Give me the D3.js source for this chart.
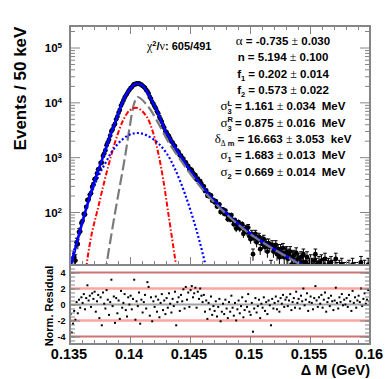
<!DOCTYPE html>
<html>
<head>
<meta charset="utf-8">
<title></title>
<script src="https://d3js.org/d3.v7.min.js"></script>
<style>
  body { margin: 0; background: #fff; }
  text { font-family: "Liberation Sans", Arial, sans-serif; font-weight: bold; fill: #000; }
  .greek { font-family: "Liberation Serif", "Times New Roman", serif; font-weight: normal; }
</style>
</head>
<body>
<svg id="chart" width="390" height="379"></svg>
<script>
// data: one point every 0.1 MeV (every second 50 keV bin)
var binLow = 0.13505
var binStep = 0.0001
var counts = [
  6, 1, 6, 15, 13, 28, 26, 43, 44, 63,
  69, 92, 90, 124, 165, 169, 206, 220, 287, 322,
  396, 410, 504, 600, 614, 784, 798, 1055, 1164, 1334,
  1650, 1867, 2088, 2481, 2983, 3210, 3734, 4049, 4898, 5503,
  6482, 7292, 8748, 9710, 10861, 12193, 13289, 14310, 15742, 16870,
  18138, 18967, 20279, 21439, 21251, 22089, 21950, 22202, 21277, 21127,
  19898, 19232, 18271, 16835, 15909, 14391, 12542, 11526, 10107, 9393,
  8464, 7779, 6875, 6313, 5415, 4912, 4421, 3794, 3425, 2968,
  2828, 2539, 2418, 2163, 1937, 1850, 1659, 1594, 1315, 1314,
  1233, 1082, 1061, 956, 927, 790, 806, 711, 685, 596,
  605, 578, 509, 485, 469, 391, 406, 365, 366, 329,
  295, 292, 241, 248, 198, 214, 190, 201, 161, 166,
  150, 157, 126, 133, 138, 100, 107, 112, 93, 106,
  90, 74, 88, 73, 88, 72, 60, 71, 50, 59,
  65, 50, 55, 60, 40, 44, 50, 43, 52, 36,
  32, 40, 17, 33, 40, 28, 32, 35, 21, 30,
  26, 32, 23, 27, 19, 27, 23, 10, 25, 19,
  22, 25, 17, 21, 15, 21, 18, 22, 15, 18,
  19, 14, 17, 19, 11, 15, 16, 11, 18, 13,
  14, 10, 15, 12, 17, 10, 12, 15, 8, 11,
  13, 11, 8, 13, 17, 11, 9, 12, 10, 13,
  8, 11, 14, 6, 10, 11, 8, 12, 10, 6,
  10, 14, 9, 7, 10, 9, 11, 7, 9, 7,
  9, 6, 10, 8, 5, 11, 7, 9, 6, 8,
  9, 7, 12, 6, 8, 10, 7, 8, 11, 7
]
var residuals = [
  -1.2, -3.5, -2.4, -0.8, -1.9, 0.3, -1.1, 0.6, -0.4, 0.9,
  0.2, 1.3, -0.6, 0.8, 2.4, 0.5, 1.1, -0.3, 1.4, 0.7,
  1.6, -0.9, 0.4, 1.2, -1.7, 0.9, -2.6, 1.5, 0.1, -0.5,
  1.8, 0.6, -1.3, 0.3, 3.1, -0.2, 1.0, -2.3, 0.8, -1.1,
  0.5, -1.8, 1.7, -0.4, 0.2, 1.3, -0.7, -1.5, 0.9, 0.0,
  1.1, -0.6, 0.7, 3.1, -1.9, 0.4, -0.2, 1.5, -2.4, 0.6,
  -1.0, 0.3, 1.2, -0.5, 2.8, 2.2, -1.4, 0.9, -2.1, 0.4,
  -0.3, 1.0, -0.9, 0.6, -1.6, 0.2, 1.3, -0.7, 0.5, -1.2,
  0.8, -0.4, 1.4, 0.1, -1.0, 0.7, -0.2, 1.6, -2.6, 0.3,
  0.9, -0.8, 1.2, 0.4, 1.9, -0.5, 2.2, 0.6, 1.5, -0.3,
  1.8, 2.3, 0.9, 1.4, 2.1, -0.4, 1.6, 0.7, 2.0, 1.1,
  0.3, 1.2, -0.9, 0.5, -1.8, 0.2, -0.6, 1.0, -1.3, -0.2,
  -0.8, 0.4, -1.5, -0.3, 0.7, -2.1, -0.9, 0.1, -1.2, 0.6,
  -0.5, -1.7, 0.3, -0.9, 1.1, -0.4, -1.4, 0.2, -2.0, -0.6,
  0.5, -1.1, -0.2, 0.9, -1.6, -0.7, 0.4, -0.3, 1.3, -0.9,
  -1.3, 0.2, -3.4, -0.5, 0.8, -1.0, -0.2, 0.6, -1.7, 0.1,
  -0.4, 0.9, -0.8, 0.3, -1.2, 0.5, -0.1, -2.6, 0.7, -0.5,
  0.2, 1.0, -0.6, 0.4, -0.9, 0.8, 0.1, 1.2, -0.3, 0.6,
  0.9, -0.2, 0.5, 1.3, -0.7, 0.3, 0.8, -0.4, 1.6, 0.2,
  0.7, -0.5, 1.1, 0.4, 2.0, -0.1, 0.6, 1.4, -0.8, 0.3,
  1.0, 0.2, -0.6, 0.8, 2.3, 0.5, -0.3, 0.9, 0.1, 1.2,
  -0.4, 0.6, 1.5, -0.9, 0.3, 0.8, -0.2, 1.1, 0.4, -0.7,
  0.5, 2.1, 0.2, -0.5, 0.9, 0.3, 1.3, -0.1, 0.6, 0.0,
  0.8, -0.3, 1.2, 0.4, -0.8, 1.7, 0.2, 0.9, -0.4, 0.5,
  1.1, 0.3, 2.0, -0.2, 0.7, 1.4, 0.1, 0.6, 1.8, 0.4
]

// fit curves (GeV, events / 50 keV)
var fitTotalX = [0.135083, 0.135775, 0.136475, 0.137167, 0.137858, 0.138275, 0.13875, 0.139308, 0.139667, 0.14, 0.140292, 0.14065, 0.141083, 0.141667, 0.142333, 0.142917, 0.14375, 0.144583, 0.145417, 0.146667, 0.148333, 0.15, 0.151667, 0.153333, 0.154333, 0.157, 0.16]
var fitTotalY = [10.8, 40.8, 144, 441, 1175, 2234, 4198, 9333, 13610, 17500, 20700, 22130, 19860, 12500, 6383, 3126, 1531, 782, 434, 196, 82, 40.8, 23.3, 14.3, 10.8, 8.5, 6.5]
var cbX = [0.1378, 0.138042, 0.138333, 0.13875, 0.139167, 0.139583, 0.14, 0.140333, 0.140625, 0.141525, 0.142358, 0.143192, 0.144308, 0.145417, 0.146667, 0.148333, 0.15, 0.151667, 0.153333, 0.154333, 0.157, 0.16]
var cbY = [4, 10.8, 27.2, 95.7, 310, 1007, 3864, 9333, 12500, 8318, 4150, 1914, 826, 383, 180, 79.4, 39.7, 23.0, 14.2, 10.8, 8.4, 6.4]
var bifurX = [0.1362, 0.136392, 0.136808, 0.137333, 0.137892, 0.138442, 0.138867, 0.139442, 0.14, 0.140625, 0.141392, 0.141942, 0.142358, 0.142775, 0.143192, 0.143608, 0.143808, 0.144]
var bifurY = [4, 11.2, 39.7, 118, 383, 1094, 2234, 4764, 7250, 7885, 5475, 2725, 1175, 383, 94.6, 23.3, 11.6, 5]
var gausX = [0.135, 0.135167, 0.135667, 0.1365, 0.137333, 0.138, 0.138583, 0.139308, 0.139917, 0.140583, 0.141333, 0.142333, 0.143083, 0.14375, 0.144583, 0.145417, 0.145833, 0.14625, 0.1466]
var gausY = [12, 15.1, 35.0, 146, 434, 817, 1352, 2057, 2537, 2761, 2537, 1811, 1143, 608, 213, 57.9, 27.2, 11.7, 5]

var xTicks = [0.135, 0.14, 0.145, 0.15, 0.155, 0.16]
var xTickLabels = ["0.135", "0.14", "0.145", "0.15", "0.155", "0.16"]
var yDecades = [2, 3, 4, 5]
var resTicks = [-4, -2, 0, 2, 4]

var paramSym = ["α", "n", "f", "f", "σ", "σ", "δ", "σ", "σ"]
var paramSub = ["", "", "1", "2", "3", "3", "Δ m", "1", "2"]
var paramSup = ["", "", "", "", "L", "R", "", "", ""]
var paramVal = ["-0.735", "5.194", "0.202", "0.573", "1.161", "0.875", "16.663", "1.683", "0.669"]
var paramErr = ["0.030", "0.100", "0.014", "0.022", "0.034", "0.016", "3.053", "0.013", "0.014"]
var paramUnit = ["", "", "", "", "MeV", "MeV", "keV", "MeV", "MeV"]

// frame edges in pixels
var leftX = 70, rightX = 370, topY = 26, midY = 265, bottomY = 344
var grey = "#858585"

var svg = d3.select("#chart")

var x = d3.scaleLinear().domain([0.135, 0.16]).range([leftX, rightX])
var y = d3.scaleLog().domain([10.8, 2.47e5]).range([midY, topY])
var yr = d3.scaleLinear().domain([-4.94, 4.94]).range([bottomY, midY])

var defs = svg.append("defs")
defs.append("clipPath").attr("id", "clipTop").append("rect")
  .attr("x", leftX).attr("y", topY).attr("width", rightX - leftX).attr("height", midY - topY)
defs.append("clipPath").attr("id", "clipRes").append("rect")
  .attr("x", leftX).attr("y", midY).attr("width", rightX - leftX).attr("height", bottomY - midY)

var bins = counts.map(function(c, i) {
  return { x: binLow + i * binStep, n: c, r: residuals[i] }
})
var shown = bins.filter(function(d) { return d.n > 0 })

// ---- top panel ----
var gTop = svg.append("g").attr("clip-path", "url(#clipTop)")

// error bars
gTop.selectAll(".eb").data(shown).enter().append("line")
  .attr("x1", function(d) { return x(d.x) })
  .attr("x2", function(d) { return x(d.x) })
  .attr("y1", function(d) { return y(d.n + Math.sqrt(d.n)) })
  .attr("y2", function(d) { return y(Math.max(d.n - Math.sqrt(d.n), 0.5)) })
  .attr("stroke", "#000").attr("stroke-width", 1)
gTop.selectAll(".cap").data(shown.filter(function(d) { return d.n < 60 })).enter().append("line")
  .attr("x1", function(d) { return x(d.x) - 1.8 })
  .attr("x2", function(d) { return x(d.x) + 1.8 })
  .attr("y1", function(d) { return y(d.n + Math.sqrt(d.n)) })
  .attr("y2", function(d) { return y(d.n + Math.sqrt(d.n)) })
  .attr("stroke", "#000").attr("stroke-width", 1)

gTop.selectAll(".pt").data(shown).enter().append("circle")
  .attr("cx", function(d) { return x(d.x) })
  .attr("cy", function(d) { return y(d.n) })
  .attr("r", 2.4)
  .attr("fill", "#000")

var line = d3.line()
  .x(function(d) { return x(d[0]) })
  .y(function(d) { return y(d[1]) })
  .curve(d3.curveCatmullRom)

gTop.append("path").datum(d3.zip(fitTotalX, fitTotalY))
  .attr("d", line).attr("fill", "none")
  .attr("stroke", "#0000ff").attr("stroke-width", 2.6)
gTop.append("path").datum(d3.zip(cbX, cbY))
  .attr("d", line).attr("fill", "none")
  .attr("stroke", "#7a7a7a").attr("stroke-width", 2.2)
  .attr("stroke-dasharray", "11,4")
gTop.append("path").datum(d3.zip(bifurX, bifurY))
  .attr("d", line).attr("fill", "none")
  .attr("stroke", "#ff0000").attr("stroke-width", 2)
  .attr("stroke-dasharray", "5,2,1.5,2")
gTop.append("path").datum(d3.zip(gausX, gausY))
  .attr("d", line).attr("fill", "none")
  .attr("stroke", "#0000ff").attr("stroke-width", 2.2)
  .attr("stroke-dasharray", "2,2.2")

// ---- residual panel ----
var gRes = svg.append("g").attr("clip-path", "url(#clipRes)")
var resLines = [[4, "#cd7373", 2], [2, "#ffa3a3", 2.5], [0, "#a3a3a3", 2], [-2, "#ffa3a3", 2.5], [-4, "#cd7373", 2]]
gRes.selectAll(".rl").data(resLines).enter().append("line")
  .attr("x1", leftX).attr("x2", rightX)
  .attr("y1", function(d) { return yr(d[0]) })
  .attr("y2", function(d) { return yr(d[0]) })
  .attr("stroke", function(d) { return d[1] })
  .attr("stroke-width", function(d) { return d[2] })
gRes.selectAll(".rp").data(bins).enter().append("rect")
  .attr("x", function(d) { return x(d.x) - 1 })
  .attr("y", function(d) { return yr(d.r) - 1 })
  .attr("width", 2).attr("height", 2)
  .attr("fill", "#000")

// ---- frames and ticks ----
function tickGroup(axis, tx, ty) {
  var g = svg.append("g").attr("transform", "translate(" + tx + "," + ty + ")").call(axis)
  g.select(".domain").remove()
  g.selectAll("text").remove()
  g.selectAll("line").attr("stroke", grey).attr("stroke-width", 1)
}

var xMinor = d3.range(0, 26).map(function(i) { return 0.135 + i * 0.001 })
var yMajor = yDecades.map(function(k) { return Math.pow(10, k) })
var yMinor = []
d3.range(1, 6).forEach(function(k) {
  d3.range(2, 10).forEach(function(m) {
    var v = m * Math.pow(10, k)
    if (v > 10.8 && v < 2.47e5) yMinor.push(v)
  })
})
var rMinor = d3.range(-9, 10).map(function(i) { return i * 0.5 })

tickGroup(d3.axisRight(y).tickValues(yMajor).tickSize(10).tickSizeOuter(0), leftX, 0)
tickGroup(d3.axisRight(y).tickValues(yMinor).tickSize(5).tickSizeOuter(0), leftX, 0)
tickGroup(d3.axisLeft(y).tickValues(yMajor).tickSize(10).tickSizeOuter(0), rightX, 0)
tickGroup(d3.axisLeft(y).tickValues(yMinor).tickSize(5).tickSizeOuter(0), rightX, 0)
tickGroup(d3.axisBottom(x).tickValues(xTicks).tickSize(8).tickSizeOuter(0), 0, topY)
tickGroup(d3.axisBottom(x).tickValues(xMinor).tickSize(4).tickSizeOuter(0), 0, topY)
tickGroup(d3.axisTop(x).tickValues(xTicks).tickSize(8).tickSizeOuter(0), 0, midY)
tickGroup(d3.axisTop(x).tickValues(xMinor).tickSize(4).tickSizeOuter(0), 0, midY)
tickGroup(d3.axisTop(x).tickValues(xTicks).tickSize(8).tickSizeOuter(0), 0, bottomY)
tickGroup(d3.axisTop(x).tickValues(xMinor).tickSize(4).tickSizeOuter(0), 0, bottomY)
tickGroup(d3.axisRight(yr).tickValues(resTicks).tickSize(10).tickSizeOuter(0), leftX, 0)
tickGroup(d3.axisRight(yr).tickValues(rMinor).tickSize(5).tickSizeOuter(0), leftX, 0)
tickGroup(d3.axisLeft(yr).tickValues(resTicks).tickSize(10).tickSizeOuter(0), rightX, 0)
tickGroup(d3.axisLeft(yr).tickValues(rMinor).tickSize(5).tickSizeOuter(0), rightX, 0)

svg.append("rect").attr("x", leftX).attr("y", topY)
  .attr("width", rightX - leftX).attr("height", midY - topY)
  .attr("fill", "none").attr("stroke", grey).attr("stroke-width", 2)
svg.append("rect").attr("x", leftX).attr("y", midY)
  .attr("width", rightX - leftX).attr("height", bottomY - midY)
  .attr("fill", "none").attr("stroke", grey).attr("stroke-width", 2)

// ---- labels ----
yDecades.forEach(function(k) {
  var t = svg.append("text")
    .attr("x", 62).attr("y", y(Math.pow(10, k)) + 4.7)
    .attr("text-anchor", "end").style("font-size", "11.5px")
  t.append("tspan").text("10")
  t.append("tspan").attr("dy", -4).style("font-size", "8px").text(k)
})

resTicks.forEach(function(v) {
  svg.append("text")
    .attr("x", 65.5).attr("y", yr(v) + 3.2)
    .attr("text-anchor", "end").style("font-size", "9px")
    .text(v)
})

xTicks.forEach(function(v, i) {
  svg.append("text")
    .attr("x", x(v) - 1).attr("y", 359)
    .attr("text-anchor", "middle").style("font-size", "14.5px")
    .text(xTickLabels[i])
})

svg.append("text")
  .attr("x", rightX).attr("y", 375)
  .attr("text-anchor", "end").style("font-size", "14.5px")
  .text("Δ M (GeV)")

svg.append("text")
  .attr("transform", "translate(26,88.5) rotate(-90)")
  .attr("text-anchor", "middle").style("font-size", "17px")
  .text("Events / 50 keV")

svg.append("text")
  .attr("transform", "translate(53,306) rotate(-90)")
  .attr("text-anchor", "middle").style("font-size", "11px")
  .text("Norm. Residual")

// chi2 / ndf
var chi = svg.append("text").attr("x", 147).attr("y", 50).style("font-size", "11px")
chi.append("tspan").attr("class", "greek").style("font-size", "12px").text("χ")
chi.append("tspan").attr("dy", -4.5).style("font-size", "7.5px").text("2")
chi.append("tspan").attr("dy", 4.5).text("/")
chi.append("tspan").attr("class", "greek").style("font-size", "12px").text("ν")
chi.append("tspan").text(": 605/491")

// fit parameters
paramSym.forEach(function(s, i) {
  var t = svg.append("text")
    .attr("x", 283).attr("y", 45 + i * 16.34)
    .attr("text-anchor", "middle")
    .style("font-size", "11.5px")
    .style("white-space", "pre")
  var isGreek = (s != "n" && s != "f")
  var sym = t.append("tspan").text(s)
  if (isGreek) sym.attr("class", "greek").style("font-size", "13px")
  var back = 0
  if (paramSup[i]) {
    var sup = t.append("tspan").attr("dy", -4.5).style("font-size", "7.5px").text(paramSup[i])
    var w = sup.node().getComputedTextLength()
    t.append("tspan").attr("dx", -w).attr("dy", 8.5).style("font-size", "7.5px").text(paramSub[i])
    back = -4
  } else if (paramSub[i]) {
    var sub = t.append("tspan").attr("dy", 3).style("font-size", "7.5px")
    if (paramSub[i].charAt(0) == "Δ") {
      sub.append("tspan").attr("class", "greek").text("Δ")
      sub.append("tspan").text(paramSub[i].slice(1))
    } else {
      sub.text(paramSub[i])
    }
    back = -3
  }
  t.append("tspan").attr("dy", back).text(" = " + paramVal[i] + " ")
  t.append("tspan").attr("class", "greek").style("font-size", "12px").text("±")
  t.append("tspan").text(" " + paramErr[i] + (paramUnit[i] ? "  " + paramUnit[i] : ""))
})
</script>
</body>
</html>
